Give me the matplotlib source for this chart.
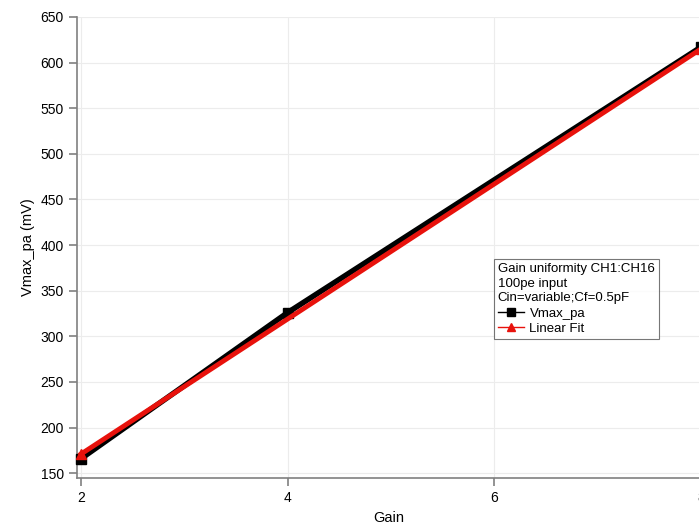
import matplotlib
matplotlib.use("Agg")
import matplotlib.pyplot as plt
from matplotlib.lines import Line2D

gain = [2, 4, 8]
vmax_pa = [166, 326, 617]
fit_gain = [2, 8]
fit_vals = [171, 615]

xticks = [2, 4, 6, 8]
yticks = [150, 200, 250, 300, 350, 400, 450, 500, 550, 600, 650]

plt.rcParams["font.family"] = ["Liberation Sans", "DejaVu Sans"]

fig = plt.figure(figsize=(6.99, 5.29), dpi=100)
ax = fig.add_axes([0.110, 0.096, 0.893, 0.872])

ax.plot(gain, vmax_pa, color="black", lw=4, marker="s", ms=7, zorder=3, clip_on=False)
ax.plot(fit_gain, fit_vals, color="#e8120c", lw=3.5, marker="^", ms=7, zorder=4, clip_on=False)

ax.set_xlim(1.96, 8.0)
ax.set_ylim(144.5, 650)
ax.set_xticks(xticks)
ax.set_yticks(yticks)
ax.grid(True, color="#ececec", lw=0.8)
ax.set_axisbelow(True)

for s in ["top", "right"]:
    ax.spines[s].set_visible(False)
for s in ["left", "bottom"]:
    ax.spines[s].set_color("#808080")
    ax.spines[s].set_linewidth(1.2)
ax.tick_params(direction="out", length=6, color="#808080", labelsize=10, width=1.2)

ax.set_xlabel("Gain", fontsize=10.5)
ax.set_ylabel("Vmax_pa (mV)", fontsize=10.5)

handles = [
    Line2D([], [], color="black", marker="s", ms=6, lw=1, label="Vmax_pa"),
    Line2D([], [], color="#e8120c", marker="^", ms=6, lw=1, label="Linear Fit"),
]
leg = ax.legend(handles=handles, loc="upper left", bbox_to_anchor=(0.668, 0.475),
                title="Gain uniformity CH1:CH16\n100pe input\nCin=variable;Cf=0.5pF",
                title_fontsize=9.5, fontsize=9.5, alignment="left",
                frameon=True, fancybox=False, handlelength=2.0,
                handletextpad=0.4, borderpad=0.3, labelspacing=0.22, borderaxespad=0)
leg.get_title().set_multialignment("left")
leg.get_title().set_linespacing(1.3)
leg.get_frame().set_edgecolor("#555555")
leg.get_frame().set_linewidth(0.8)

fig.savefig("out.png", dpi=100, facecolor="white")
